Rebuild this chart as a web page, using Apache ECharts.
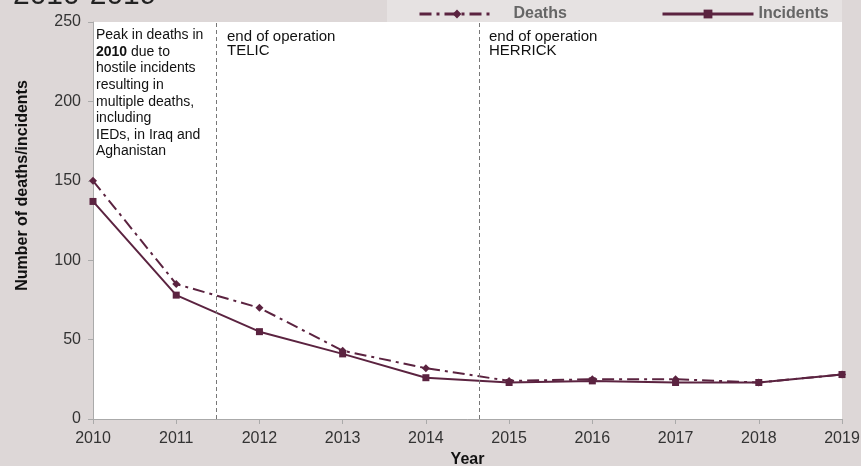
<!DOCTYPE html>
<html><head><meta charset="utf-8">
<script src="https://cdn.jsdelivr.net/npm/echarts@6/dist/echarts.min.js"></script>
<style>html,body{margin:0;padding:0;background:#ddd7d7;}#c{width:861px;height:466px;}</style>
</head><body><div id="c"></div>
<script>
var years = [2010, 2011, 2012, 2013, 2014, 2015, 2016, 2017, 2018, 2019];
var deaths = [150, 85, 70, 43, 32, 24, 25, 25, 23, 28];
var incidents = [137, 78, 55, 41, 26, 23, 24, 23, 23, 28];
var eventPositions = [2011.48, 2014.64];
var eventLabels = ['end of operation\nTELIC', 'end of operation\nHERRICK'];

var C = '#5b2340';
var chart = echarts.init(document.getElementById('c'), null, {renderer: 'canvas'});
var font = 'Liberation Sans, Arial, sans-serif';
var opt = {
  backgroundColor: '#ddd7d7',
  animation: false,
  title: {text: '2010-2019', left: 8, top: -24, textStyle: {fontFamily: font, fontSize: 30, fontWeight: 'normal', color: '#222'}},
  graphic: [
    {type: 'rect', z: -1, shape: {x: 387, y: 0, width: 455, height: 23}, style: {fill: '#e6e2e2'}},
    {type: 'text', left: 96, top: 27, z: 10, style: {
      text: 'Peak in deaths in\n{b|2010} due to\nhostile incidents\nresulting in\nmultiple deaths,\nincluding\nIEDs, in Iraq and\nAghanistan',
      font: '14px ' + font, fill: '#111', lineHeight: 16.6,
      rich: {b: {fontWeight: 'bold', fontSize: 14, fontFamily: font, fill: '#111', lineHeight: 16.6}}}},
    {type: 'text', left: 227, top: 29, z: 10, style: {text: eventLabels[0], font: '15px ' + font, fill: '#111', lineHeight: 14}},
    {type: 'text', left: 489, top: 29, z: 10, style: {text: eventLabels[1], font: '15px ' + font, fill: '#111', lineHeight: 14}}
  ],
  legend: [
    {data: ['Deaths'], left: 413, top: 1, itemWidth: 75, itemHeight: 11, itemGap: 10,
     lineStyle: {width: 3},
     textStyle: {fontFamily: font, fontSize: 16, fontWeight: 'bold', color: '#666', padding: [0, 0, 0, 14]}},
    {data: ['Incidents'], left: 656, top: 1, itemWidth: 91, itemHeight: 11, itemGap: 10,
     lineStyle: {width: 3},
     textStyle: {fontFamily: font, fontSize: 16, fontWeight: 'bold', color: '#666', padding: [0, 0, 0, 0]}}
  ],
  grid: {left: 93, right: 19, top: 22, bottom: 47, show: true, backgroundColor: '#fff', borderWidth: 0,
         containLabel: false, outerBoundsMode: 'none'},
  xAxis: {
    type: 'value', min: 2010, max: 2019, interval: 1,
    name: 'Year', nameLocation: 'middle', nameGap: 32,
    nameTextStyle: {fontFamily: font, fontSize: 16, fontWeight: 'bold', color: '#111'},
    axisLine: {show: true, lineStyle: {color: '#aaa'}},
    axisTick: {show: true, length: 5, lineStyle: {color: '#aaa'}},
    axisLabel: {fontFamily: font, fontSize: 16, color: '#333', margin: 12, formatter: function (v) { return String(v); }},
    splitLine: {show: false}
  },
  yAxis: {
    type: 'value', min: 0, max: 250, interval: 50,
    name: 'Number of deaths/incidents', nameLocation: 'middle', nameGap: 62,
    nameTextStyle: {fontFamily: font, fontSize: 16, fontWeight: 'bold', color: '#111', padding: [0, 0, 0, 70]},
    axisLine: {show: true, lineStyle: {color: '#aaa'}},
    axisTick: {show: true, length: 5, lineStyle: {color: '#aaa'}},
    axisLabel: {fontFamily: font, fontSize: 16, color: '#333', margin: 12},
    splitLine: {show: false}
  },
  series: [
    {name: 'Deaths', type: 'line', data: years.map(function (y, i) { return [y, deaths[i]]; }),
     symbol: 'diamond', symbolSize: 8, itemStyle: {color: C},
     lineStyle: {color: C, width: 2, type: [12, 5, 3, 5]}, z: 3,
     markLine: {silent: true, symbol: 'none', label: {show: false},
       lineStyle: {color: '#777', width: 1, type: [4, 3]},
       data: eventPositions.map(function (p) { return {xAxis: p}; })}},
    {name: 'Incidents', type: 'line', data: years.map(function (y, i) { return [y, incidents[i]]; }),
     symbol: 'rect', symbolSize: 7, itemStyle: {color: C},
     lineStyle: {color: C, width: 2}, z: 4}
  ]
};
chart.setOption(opt);
</script></body></html>
